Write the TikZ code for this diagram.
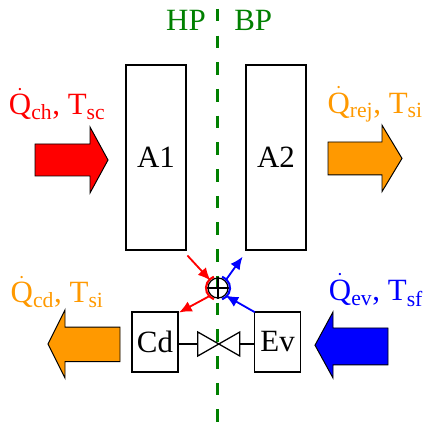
\documentclass[tikz,border=0pt]{standalone}
\usepackage{fontspec}
\setmainfont{Liberation Serif}
\usepackage{tikz}
\usetikzlibrary{arrows.meta, positioning}
\definecolor{hpgreen}{RGB}{0, 128, 0}
\definecolor{heatorange}{RGB}{255, 153, 0}

\begin{document}
\begin{tikzpicture}[
    font=\fontsize{22}{24}\selectfont,
    block/.style={rectangle, draw, line width=0.9pt, minimum width=1.5cm, minimum height=4.625cm, inner sep=0pt},
    hx/.style={rectangle, draw, line width=0.9pt, minimum width=1.15cm, minimum height=1.5cm, inner sep=0pt},
    fat/.style={draw, line width=0.7pt, line join=miter},
    flow/.style={line width=1.3pt, -{Latex[length=9pt, width=8pt]}},
    lbl/.style={inner sep=0pt}
]
    \useasboundingbox (0,0) rectangle (10.625,-10.575);

    % separation line
    \coordinate (top) at (5.43,-0.22);
    \coordinate (bot) at (5.43,-10.575);
    \draw[hpgreen, line width=2pt, dash pattern=on 9pt off 10pt] (top) -- (bot);
    \node[lbl, hpgreen] (hp) at (4.65,-0.5) {HP};
    \node[lbl, hpgreen] (bp) at (6.33,-0.5) {BP};

    % machines
    \node[block] (a1) at (3.9,-3.94) {A1};
    \node[block] (a2) at (6.9,-3.94) {A2};
    \node[hx] (cd) at (3.875,-8.55) {Cd};
    \node[hx] (ev) at (6.94,-8.55) {Ev};

    % mixer
    \node[circle, draw, line width=0.9pt, minimum size=0.5cm, inner sep=0pt] (mix) at (5.45,-7.2) {};
    \draw[line width=0.9pt] (mix.north) -- (mix.south) (mix.west) -- (mix.east);
    \draw[red, line width=1.5pt] (mix.center) ++(110:0.3) arc (110:250:0.3);
    \draw[blue, line width=1.5pt] (mix.center) ++(-70:0.3) arc (-70:70:0.3);

    % valve
    \coordinate (valve) at (5.47,-8.6);
    \coordinate (vl) at (4.95,-8.6);
    \coordinate (vr) at (6.0,-8.6);
    \draw[line width=0.9pt] (valve) -- ++(-0.525,0.3) -- ++(0,-0.6) -- cycle;
    \draw[line width=0.9pt] (valve) -- ++(0.525,0.3) -- ++(0,-0.6) -- cycle;
    \draw[line width=0.9pt] (cd.east |- vl) -- (vl);
    \draw[line width=0.9pt] (vr) -- (ev.west |- vr);

    % small flows
    \draw[flow, red] ([shift={(0.02,-0.12)}]a1.south east) -- (mix.135);
    \draw[flow, blue] (mix.45) -- ([shift={(-0.07,-0.15)}]a2.south west);
    \draw[flow, red] (mix.225) -- ([shift={(0.01,-0.03)}]cd.north east);
    \draw[flow, blue] ([shift={(0.02,-0.02)}]ev.north west) -- (mix.-45);

    % heat flows
    \draw[fat, fill=red] (0.875,-3.6) -- (2.25,-3.6) -- (2.25,-3.175) -- (2.7,-4.0)
        -- (2.25,-4.825) -- (2.25,-4.4) -- (0.875,-4.4) -- cycle;
    \node[lbl, red] (qch) at (1.43,-2.6) {$\dot{\mathrm{Q}}_{\mathrm{ch}}$, T$_{\mathrm{sc}}$};

    \draw[fat, fill=heatorange] (8.2,-3.55) -- (9.55,-3.55) -- (9.55,-3.13) -- (10.05,-3.96)
        -- (9.55,-4.79) -- (9.55,-4.37) -- (8.2,-4.37) -- cycle;
    \node[lbl, heatorange] (qrej) at (9.38,-2.6) {$\dot{\mathrm{Q}}_{\mathrm{rej}}$, T$_{\mathrm{si}}$};

    \draw[fat, fill=heatorange] (3.0,-8.18) -- (1.625,-8.18) -- (1.625,-7.75) -- (1.2,-8.6)
        -- (1.625,-9.45) -- (1.625,-9.04) -- (3.0,-9.04) -- cycle;
    \node[lbl, heatorange] (qcd) at (1.43,-7.3) {$\dot{\mathrm{Q}}_{\mathrm{cd}}$, T$_{\mathrm{si}}$};

    \draw[fat, fill=blue] (9.7,-8.2) -- (8.325,-8.2) -- (8.325,-7.8) -- (7.875,-8.63)
        -- (8.325,-9.45) -- (8.325,-9.12) -- (9.7,-9.12) -- cycle;
    \node[lbl, blue] (qev) at (9.4,-7.25) {$\dot{\mathrm{Q}}_{\mathrm{ev}}$, T$_{\mathrm{sf}}$};

\end{tikzpicture}
\end{document}
